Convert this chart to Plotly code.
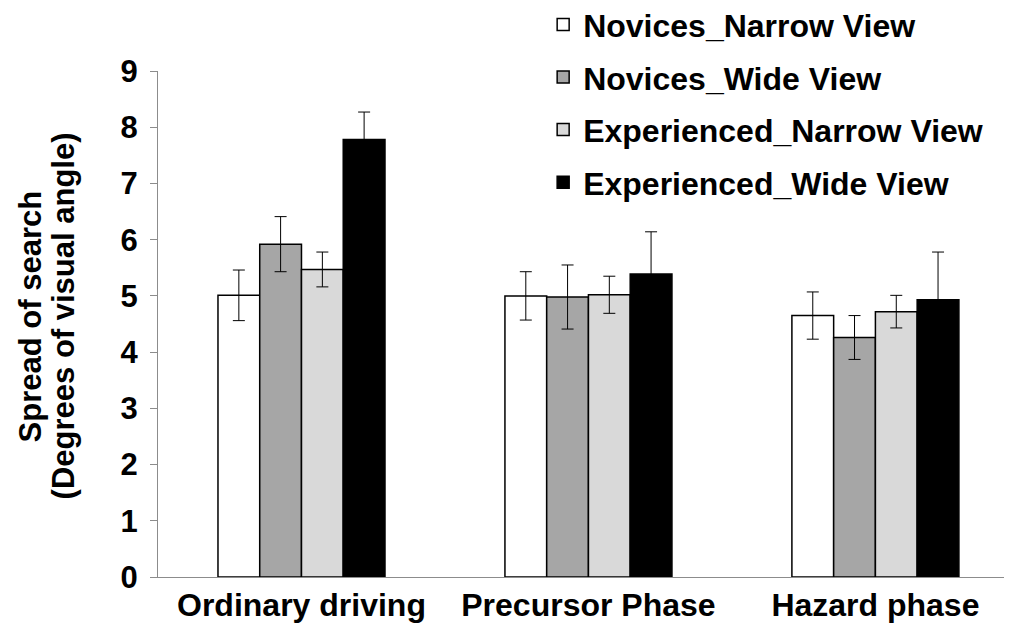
import plotly.graph_objects as go

categories = ["Ordinary driving", "Precursor Phase", "Hazard phase"]

series_names = ["Novices_Narrow View", "Novices_Wide View",
                "Experienced_Narrow View", "Experienced_Wide View"]
novices_narrow = [5.01, 5.00, 4.65]
novices_narrow_err = [0.45, 0.43, 0.42]
novices_wide = [5.92, 4.98, 4.26]
novices_wide_err = [0.49, 0.57, 0.39]
exp_narrow = [5.47, 5.02, 4.72]
exp_narrow_err = [0.31, 0.33, 0.29]
exp_wide = [7.78, 5.39, 4.93]
exp_wide_err = [0.49, 0.75, 0.85]

values = [novices_narrow, novices_wide, exp_narrow, exp_wide]
errors = [novices_narrow_err, novices_wide_err, exp_narrow_err, exp_wide_err]
colors = ["#FFFFFF", "#A6A6A6", "#D9D9D9", "#000000"]

FONT = "Liberation Sans, Arial, sans-serif"

fig = go.Figure()
for i, name in enumerate(series_names):
    fig.add_trace(go.Bar(
        x=categories,
        y=values[i],
        name=name,
        legendgroup="g" + str(i),
        marker=dict(color=colors[i], line=dict(color="black", width=1.5)),
        error_y=dict(type="data", array=errors[i], color="black", thickness=1, width=6),
    ))

# page has an 8px body margin, so the figure is a bit smaller than the window
fig.update_layout(
    width=1004, height=626,
    margin=dict(l=150, r=0, t=63, b=57, autoexpand=False),
    paper_bgcolor="white", plot_bgcolor="white",
    barmode="group", bargap=0.418, bargroupgap=0,
    font=dict(family=FONT, size=31, color="black"),
    legend=dict(
        x=0.451, y=1.146, xanchor="left", yanchor="top",
        bgcolor="rgba(0,0,0,0)", tracegroupgap=8,
        font=dict(family=FONT, size=32, color="black", weight="bold"),
    ),
)

fig.update_xaxes(
    range=[-0.5, 2.476],
    showline=True, linecolor="#8C8C8C", linewidth=1,
    ticks="", showgrid=False, zeroline=False,
    tickfont=dict(family=FONT, size=32, color="black", weight="bold"),
)
fig.update_yaxes(
    range=[0, 9], dtick=1,
    showline=True, linecolor="#8C8C8C", linewidth=1,
    ticks="outside", ticklen=7, tickcolor="#8C8C8C",
    showgrid=False, zeroline=False,
    ticklabelstandoff=6,
    tickfont=dict(family=FONT, size=31, color="black", weight="bold"),
)

fig.add_annotation(
    text="Spread of search", textangle=-90,
    xref="paper", yref="paper", x=(30 - 158) / 854, y=0.515,
    xanchor="center", yanchor="middle", showarrow=False,
    font=dict(family=FONT, size=31, color="black", weight="bold"),
)
fig.add_annotation(
    text="(Degrees of visual angle)", textangle=-90,
    xref="paper", yref="paper", x=(63 - 158) / 854, y=0.515,
    xanchor="center", yanchor="middle", showarrow=False,
    font=dict(family=FONT, size=31, color="black", weight="bold"),
)

fig.write_html("out.html")
